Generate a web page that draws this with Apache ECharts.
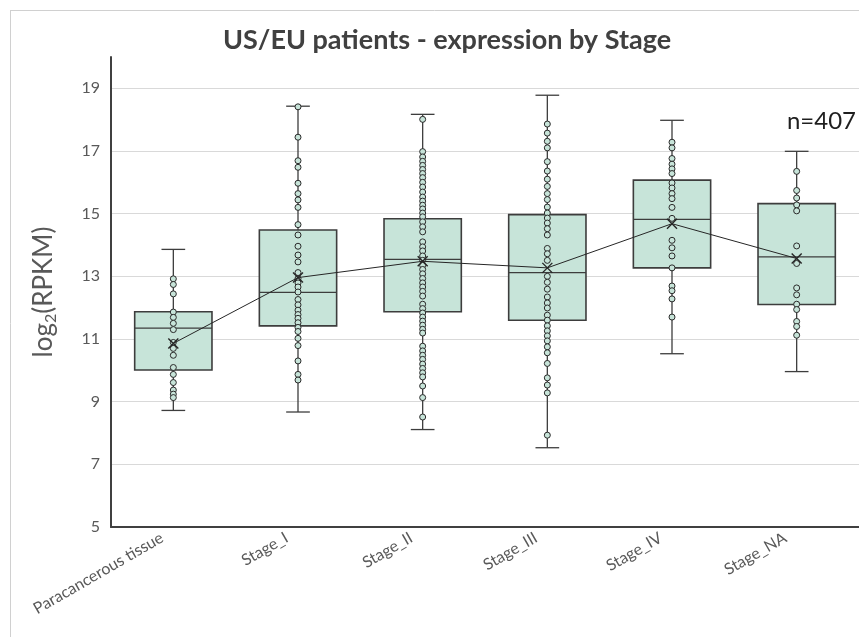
<!DOCTYPE html>
<html>
<head>
<meta charset="utf-8">
<script src="https://cdn.jsdelivr.net/npm/echarts@6/dist/echarts.min.js"></script>
<style>
  html, body { margin: 0; padding: 0; background: #ffffff; }
  #chart { width: 859px; height: 637px; }
</style>
</head>
<body>
<div id="chart"></div>
<script>
// Expression (log2 RPKM) per tumour stage
const categories = ['Paracancerous tissue', 'Stage_I', 'Stage_II', 'Stage_III', 'Stage_IV', 'Stage_NA'];

// Box summary per category
const whiskerLow  = [8.72, 8.67, 8.11, 7.53, 10.53, 9.96];
const quartile1   = [10.01, 11.42, 11.87, 11.60, 13.27, 12.10];
const medians     = [11.35, 12.49, 13.54, 13.12, 14.82, 13.62];
const quartile3   = [11.87, 14.48, 14.84, 14.97, 16.07, 15.32];
const whiskerHigh = [13.86, 18.43, 18.17, 18.78, 17.98, 16.99];
const means       = [10.86, 12.96, 13.48, 13.27, 14.68, 13.57];

// Individual samples drawn inside each box
const pointsParacancerous = [12.92, 12.74, 12.44, 11.86, 11.69, 11.50, 11.30, 10.89, 10.70, 10.48,
  10.09, 9.87, 9.61, 9.37, 9.24, 9.13];
const pointsStageI = [18.41, 17.44, 16.69, 16.48, 15.97, 15.64, 15.44, 15.20, 14.65, 14.32, 13.96,
  13.68, 13.46, 13.12, 12.93, 12.79, 12.66, 12.50, 12.26, 12.09, 11.92, 11.78, 11.66, 11.52, 11.37,
  11.24, 11.02, 10.79, 10.30, 9.87, 9.69];
const pointsStageII = [18.01, 16.98, 16.81, 16.67, 16.54, 16.41, 16.28, 16.15, 16.00, 15.85, 15.69,
  15.53, 15.40, 15.27, 15.15, 15.02, 14.90, 14.74, 14.58, 14.42, 14.10, 13.94, 13.81, 13.65, 13.51,
  13.35, 13.22, 13.08, 12.93, 12.79, 12.66, 12.52, 12.37, 12.11, 11.97, 11.83, 11.70, 11.57, 11.44,
  11.31, 11.19, 10.77, 10.62, 10.48, 10.35, 10.20, 10.06, 9.92, 9.79, 9.50, 9.13, 8.51];
const pointsStageIII = [17.86, 17.57, 17.31, 17.10, 16.66, 16.36, 16.10, 15.87, 15.64, 15.45, 15.21,
  15.02, 14.86, 14.70, 14.52, 14.32, 13.89, 13.72, 13.51, 13.00, 12.81, 12.59, 12.34, 12.15, 11.99,
  11.76, 11.60, 11.42, 11.26, 11.10, 10.94, 10.75, 10.56, 10.22, 9.76, 9.53, 9.28, 7.93];
const pointsStageIV = [17.28, 17.10, 16.76, 16.58, 16.43, 16.28, 15.98, 15.82, 15.64, 15.48, 15.20,
  14.85, 14.15, 13.91, 13.65, 13.27, 12.69, 12.54, 12.28, 11.70];
const pointsStageNA = [16.35, 15.74, 15.50, 15.28, 15.09, 13.97, 13.41, 12.63, 12.41, 12.11, 11.94,
  11.56, 11.40, 11.12];

const sampleGroups = [pointsParacancerous, pointsStageI, pointsStageII, pointsStageIII, pointsStageIV, pointsStageNA];
const sampleCountLabel = 'n=407';

const boxData = categories.map((c, i) => [i, whiskerLow[i], quartile1[i], medians[i], quartile3[i], whiskerHigh[i]]);
const sampleData = [];
sampleGroups.forEach((g, i) => g.forEach(v => sampleData.push([i, v])));

const BOX_FILL = '#c7e4d9';
const INK = '#3d3d3d';

function renderBox(params, api) {
  const idx = api.value(0);
  const pLow = api.coord([idx, api.value(1)]);
  const pQ1 = api.coord([idx, api.value(2)]);
  const pMed = api.coord([idx, api.value(3)]);
  const pQ3 = api.coord([idx, api.value(4)]);
  const pHigh = api.coord([idx, api.value(5)]);
  const band = api.size([1, 0])[0];
  const half = band * 0.31;
  const cap = band * 0.095;
  const x = pMed[0];
  const stroke = { stroke: INK, lineWidth: 1.3, fill: null };
  return {
    type: 'group',
    children: [
      { type: 'line', shape: { x1: x, y1: pHigh[1], x2: x, y2: pQ3[1] }, style: stroke },
      { type: 'line', shape: { x1: x, y1: pQ1[1], x2: x, y2: pLow[1] }, style: stroke },
      { type: 'line', shape: { x1: x - cap, y1: pHigh[1], x2: x + cap, y2: pHigh[1] }, style: stroke },
      { type: 'line', shape: { x1: x - cap, y1: pLow[1], x2: x + cap, y2: pLow[1] }, style: stroke },
      { type: 'rect', shape: { x: x - half, y: pQ3[1], width: half * 2, height: pQ1[1] - pQ3[1] },
        style: { fill: BOX_FILL, stroke: INK, lineWidth: 1.6 } },
      { type: 'line', shape: { x1: x - half, y1: pMed[1], x2: x + half, y2: pMed[1] }, style: stroke }
    ]
  };
}

const chart = echarts.init(document.getElementById('chart'), null, { renderer: 'canvas' });

chart.setOption({
  animation: false,
  backgroundColor: '#ffffff',
  textStyle: { fontFamily: 'Lato' },
  title: [
    {
      text: 'US/EU patients - expression by Stage',
      left: 442,
      textAlign: 'center',
      top: 22,
      textStyle: { fontFamily: 'Lato', fontSize: 27, fontWeight: 'bold', color: '#404040' }
    },
    {
      text: sampleCountLabel,
      right: -2,
      top: 104,
      textStyle: { fontFamily: 'Lato', fontSize: 24, fontWeight: 'normal', color: '#1f1f1f' }
    }
  ],
  graphic: [
    { type: 'line', shape: { x1: 10.5, y1: 10, x2: 10.5, y2: 637 }, style: { stroke: '#d0d0d0', lineWidth: 1 }, silent: true },
    { type: 'line', shape: { x1: 10, y1: 10.5, x2: 859, y2: 10.5 }, style: { stroke: '#d0d0d0', lineWidth: 1 }, silent: true }
  ],
  grid: { left: 111, right: -1, top: 57, bottom: 110, containLabel: false },
  xAxis: {
    type: 'category',
    data: categories,
    boundaryGap: true,
    axisLine: { show: true, lineStyle: { color: '#404040', width: 2 } },
    axisTick: { show: false },
    axisLabel: { rotate: 30, margin: 3, padding: [0, 13, 0, 0], fontSize: 16, color: '#595959', fontFamily: 'Lato', interval: 0 },
    splitLine: { show: false }
  },
  yAxis: {
    type: 'value',
    min: 5,
    max: 20,
    interval: 2,
    axisLine: { show: true, lineStyle: { color: '#404040', width: 2 } },
    axisTick: { show: false },
    axisLabel: { showMaxLabel: false, fontSize: 16, color: '#595959', margin: 11, fontFamily: 'Lato' },
    splitLine: { show: true, showMaxLine: false, lineStyle: { color: '#d9d9d9', width: 1.2 } },
    name: '{a|log}{b|2}{a|(RPKM)}',
    nameLocation: 'middle',
    nameRotate: 90,
    nameGap: 52,
    nameTextStyle: {
      rich: {
        a: { fontSize: 26, color: '#595959', fontFamily: 'Lato', lineHeight: 30 },
        b: { fontSize: 16, color: '#595959', fontFamily: 'Lato', lineHeight: 30, verticalAlign: 'bottom', padding: [11, 0, 0, 0] }
      }
    }
  },
  series: [
    {
      type: 'custom',
      name: 'box',
      renderItem: renderBox,
      encode: { x: 0, y: [1, 2, 3, 4, 5] },
      data: boxData,
      z: 2
    },
    {
      type: 'scatter',
      name: 'samples',
      data: sampleData,
      symbol: 'circle',
      symbolSize: 6,
      itemStyle: { color: BOX_FILL, borderColor: '#2a2a2a', borderWidth: 1, opacity: 1 },
      z: 3
    },
    {
      type: 'line',
      name: 'mean',
      data: means,
      symbol: 'path://M0,0L10,10M10,0L0,10',
      symbolSize: 10,
      lineStyle: { color: '#262626', width: 1 },
      itemStyle: { color: 'none', borderColor: '#262626', borderWidth: 1.4 },
      z: 4
    }
  ]
});
</script>
</body>
</html>
